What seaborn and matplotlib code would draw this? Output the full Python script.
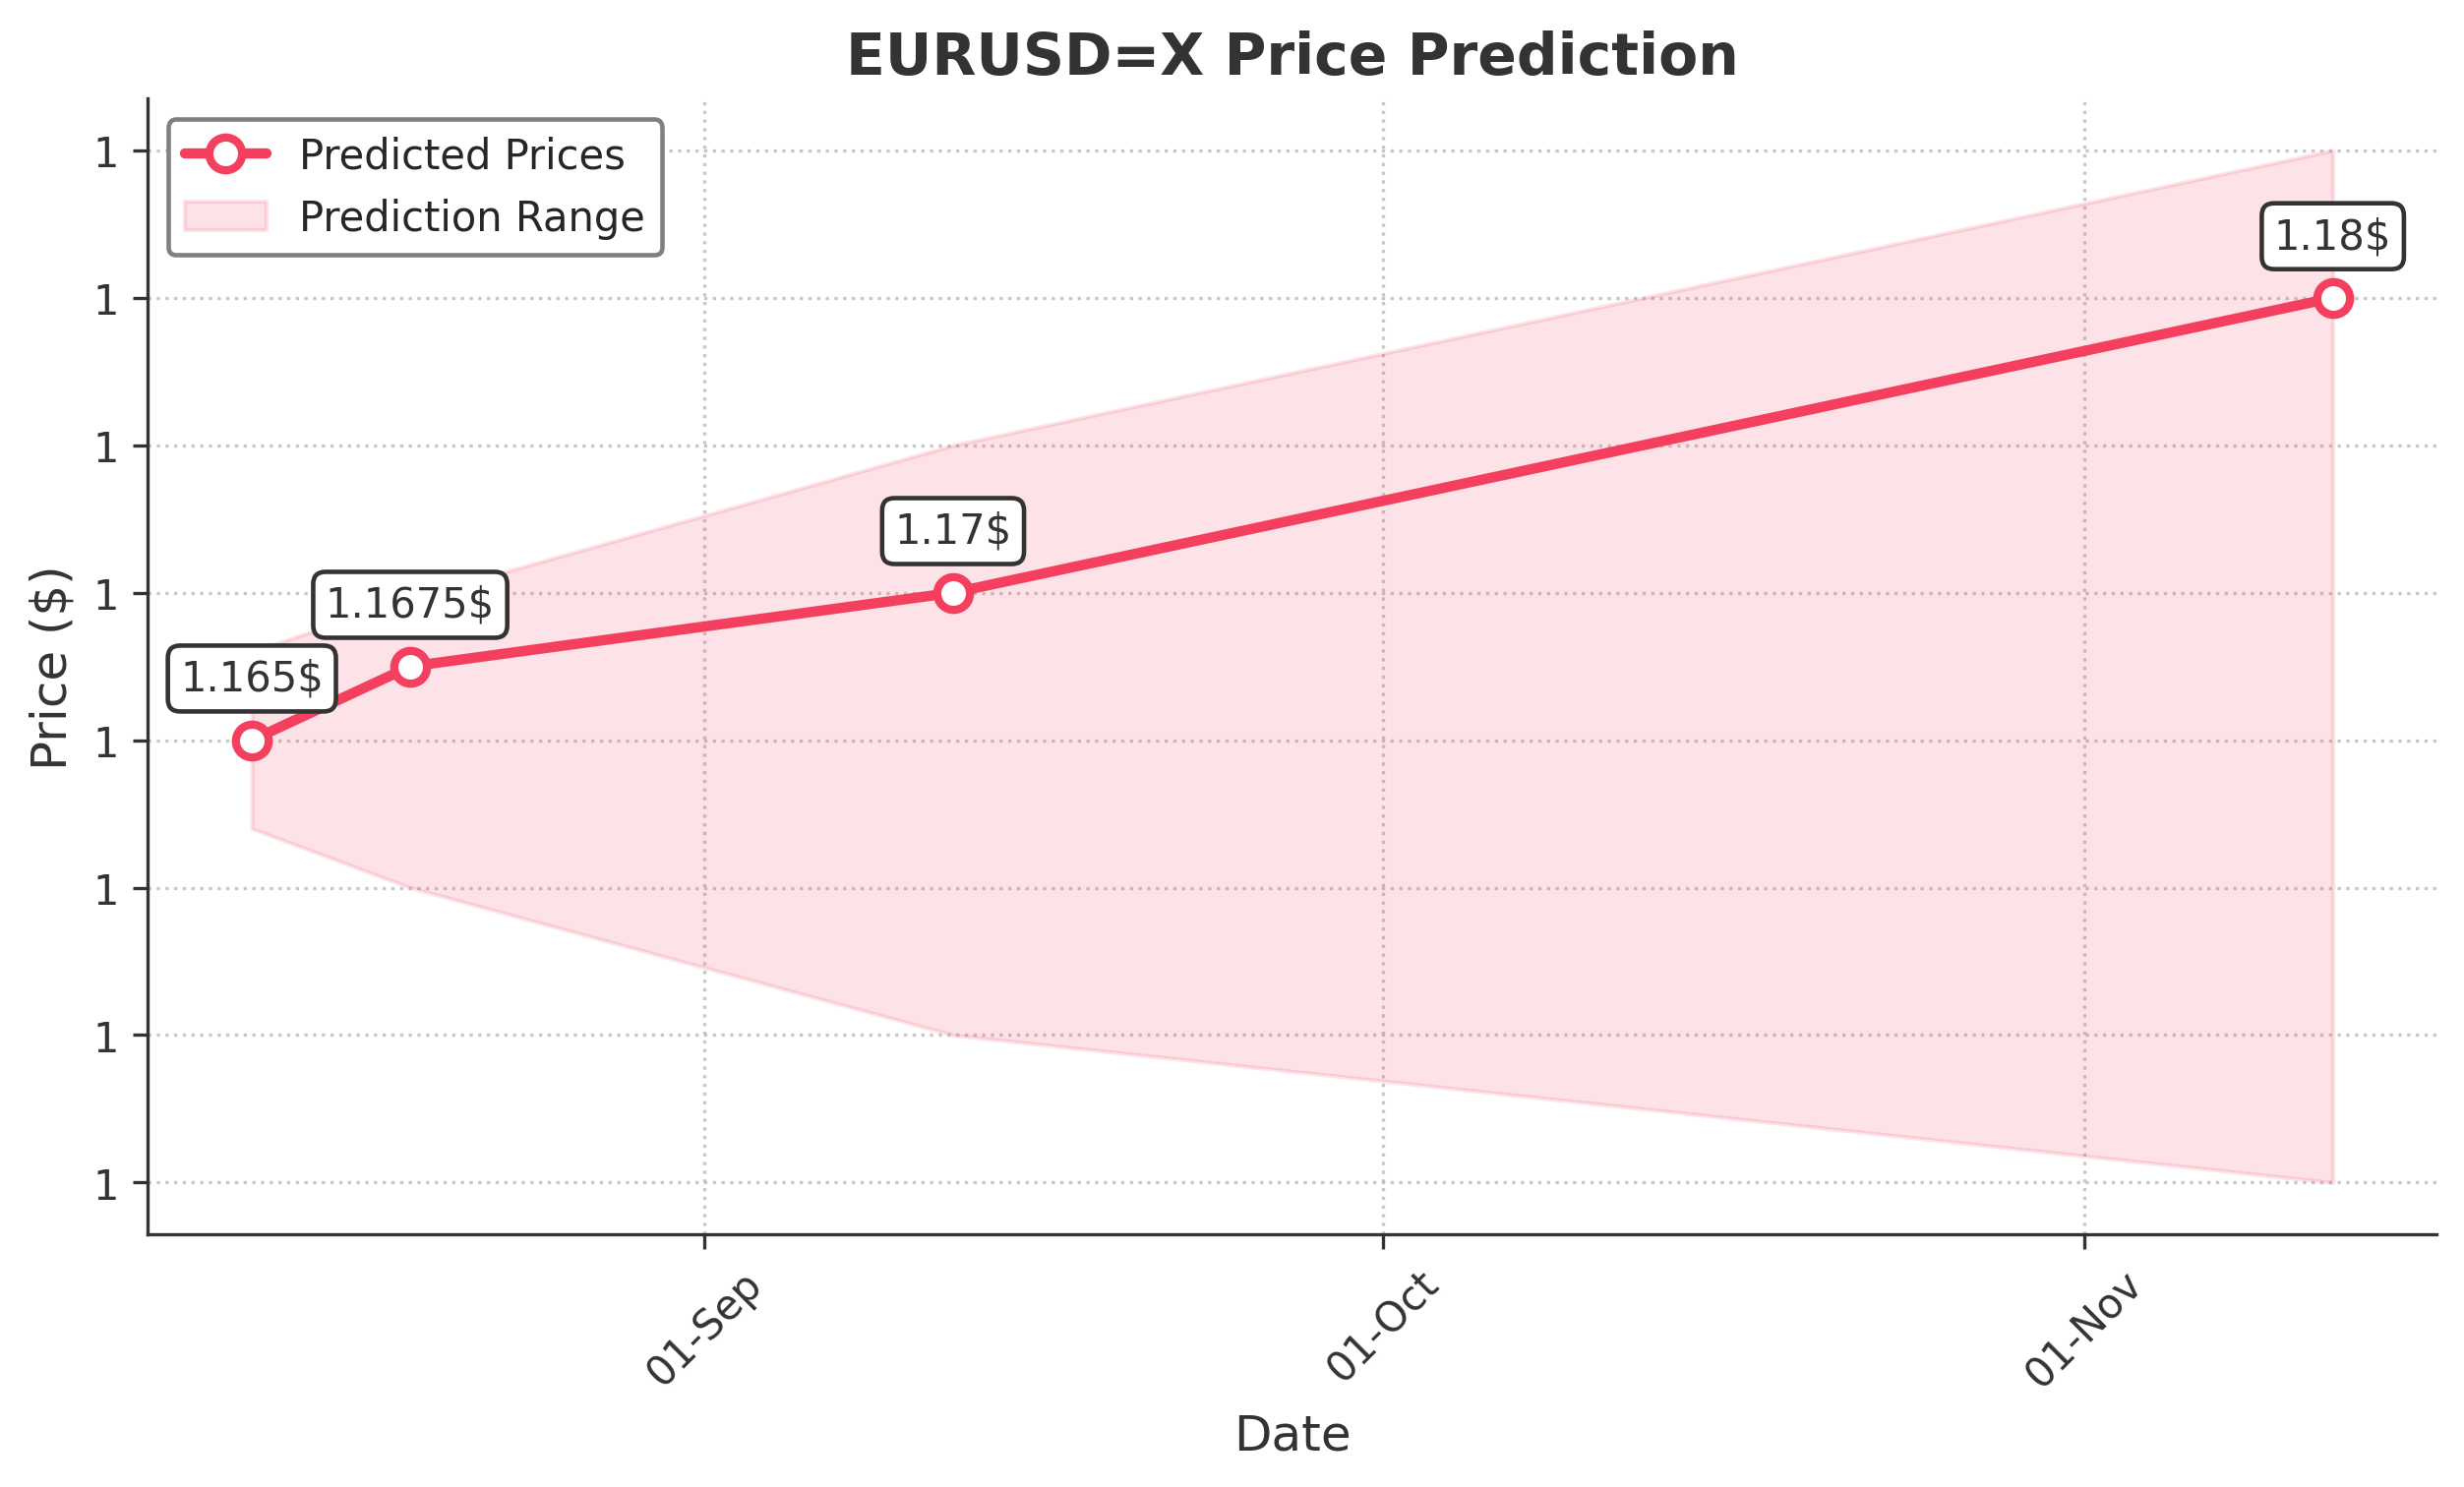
import matplotlib
matplotlib.use("Agg")
import matplotlib.dates as mdates
import matplotlib.pyplot as plt
import matplotlib.ticker as mticker
import pandas as pd
import seaborn as sns

# values
dates = pd.to_datetime(["2025-08-12", "2025-08-19", "2025-09-12", "2025-11-12"])
predicted = [1.165, 1.1675, 1.17, 1.18]
lower = [1.162, 1.16, 1.155, 1.15]
upper = [1.168, 1.1698, 1.175, 1.185]
labels = ["1.165$", "1.1675$", "1.17$", "1.18$"]

LINE = "#F43F5E"
TEXT = "#333333"

sns.set_theme(style="ticks", rc={"axes.linewidth": 0.8,
                                 "xtick.major.size": 3.5, "ytick.major.size": 3.5,
                                 "xtick.major.width": 0.8, "ytick.major.width": 0.8})
plt.rcParams["font.family"] = ["DejaVu Sans"]

fig, ax = plt.subplots(figsize=(8.35, 5.043), dpi=300)
fig.subplots_adjust(left=0.060, right=0.989, top=0.933, bottom=0.170)

ax.fill_between(dates, lower, upper, color=LINE, alpha=0.15, label="Prediction Range")
sns.lineplot(x=dates, y=predicted, ax=ax, color=LINE, lw=2.5, marker="o", ms=8,
             markerfacecolor="white", markeredgecolor=LINE, markeredgewidth=2,
             label="Predicted Prices")

for d, p, t in zip(dates, predicted, labels):
    ax.annotate(t, (d, p), xytext=(0, 10), textcoords="offset points", ha="center", va="bottom",
                fontsize=10, color=TEXT,
                bbox=dict(boxstyle="round,pad=0.3", fc="white", ec=TEXT, lw=1.1))

ax.xaxis.set_major_locator(mdates.MonthLocator())
ax.xaxis.set_major_formatter(mdates.DateFormatter("%d-%b"))
ax.yaxis.set_major_locator(mticker.MultipleLocator(0.005))
ax.yaxis.set_major_formatter(mticker.StrMethodFormatter("{x:.0f}"))
plt.setp(ax.get_xticklabels(), rotation=45)
ax.tick_params(labelsize=10, colors=TEXT)

ax.grid(True, linestyle=":", color="#BBBBBB", lw=0.8, alpha=0.8)
sns.despine(ax=ax)
for s in ("left", "bottom"):
    ax.spines[s].set_color(TEXT)

ax.set_title("EURUSD=X Price Prediction", fontsize=14, fontweight="bold", color=TEXT)
ax.set_xlabel("Date", fontsize=12, color=TEXT)
ax.set_ylabel("Price ($)", fontsize=12, color=TEXT)

handles, lbls = ax.get_legend_handles_labels()
order = [lbls.index("Predicted Prices"), lbls.index("Prediction Range")]
leg = ax.legend([handles[i] for i in order], [lbls[i] for i in order], loc="upper left",
                fontsize=10, frameon=True, fancybox=True, framealpha=1)
leg.get_frame().set_edgecolor("#808080")
leg.get_frame().set_linewidth(1.1)

fig.savefig("out.png", dpi=300)
